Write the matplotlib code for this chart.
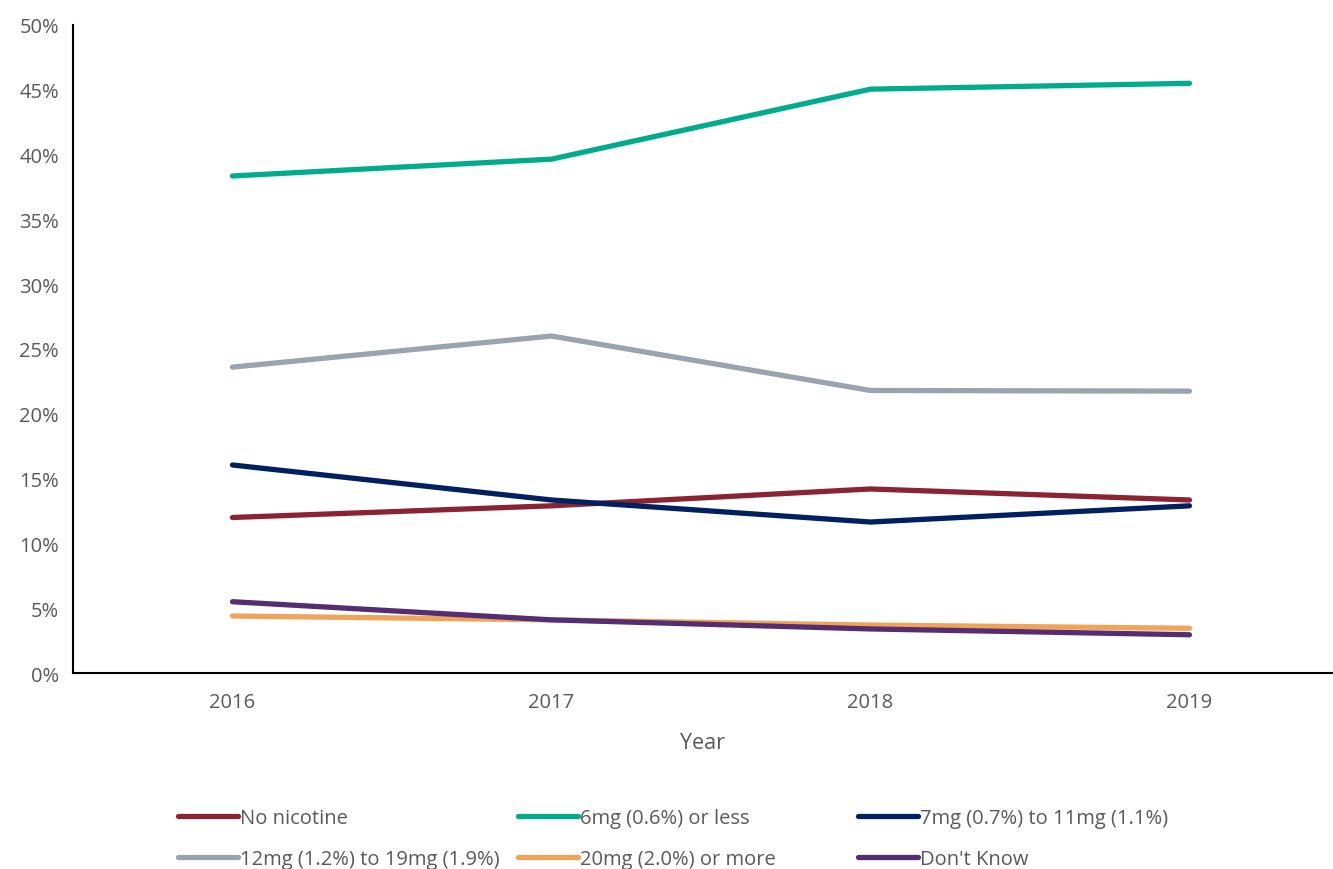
import matplotlib
matplotlib.use("Agg")
import matplotlib.pyplot as plt
from matplotlib.ticker import PercentFormatter

plt.rcParams['font.family'] = ['Open Sans', 'DejaVu Sans']

years = ['2016', '2017', '2018', '2019']
no_nicotine = [12.0, 12.9, 14.2, 13.35]
mg6_or_less = [38.35, 39.65, 45.05, 45.5]
mg7_to_11 = [16.05, 13.35, 11.65, 12.9]
mg12_to_19 = [23.6, 26.0, 21.8, 21.75]
mg20_or_more = [4.4, 4.1, 3.7, 3.45]
dont_know = [5.5, 4.1, 3.4, 2.95]

labels = ['No nicotine', '6mg (0.6%) or less', '7mg (0.7%) to 11mg (1.1%)',
          '12mg (1.2%) to 19mg (1.9%)', '20mg (2.0%) or more', "Don't Know"]
series = [no_nicotine, mg6_or_less, mg7_to_11, mg12_to_19, mg20_or_more, dont_know]
colors = ['#8B2332', '#00AC8C', '#002060', '#9BA4AE', '#F0A45A', '#552D72']

grey = '#595959'

fig = plt.figure(figsize=(13.33, 8.7), dpi=100)
ax = fig.add_axes([73/1333, 1 - 674/870, 1 - 73/1333, (674 - 26)/870])

x = range(len(years))
lines = []
for vals, lab, col in zip(series, labels, colors):
    ln, = ax.plot(x, vals, color=col, lw=3.8, label=lab, solid_capstyle='round')
    lines.append(ln)

ax.set_xlim(-0.5, 3.45)
ax.set_ylim(0, 50)
ax.set_xticks(list(x))
ax.set_xticklabels(years)
ax.set_yticks(range(0, 51, 5))
ax.yaxis.set_major_formatter(PercentFormatter(decimals=0))
ax.tick_params(length=0, labelsize=14.5, colors=grey, pad=10)
ax.tick_params(axis='x', pad=14)
for s in ['top', 'right']:
    ax.spines[s].set_visible(False)
for s in ['left', 'bottom']:
    ax.spines[s].set_color('black')
    ax.spines[s].set_linewidth(1.5)
ax.set_xlabel('Year', fontsize=15.5, color=grey, labelpad=14)

# legend, three columns placed like the original
cols = [(0, 3), (1, 4), (2, 5)]
xs = [170, 510, 850]
for (i, j), px in zip(cols, xs):
    leg = fig.legend([lines[i], lines[j]], [labels[i], labels[j]],
                     loc='upper left', bbox_to_anchor=(px/1333, 1 - 801/870),
                     frameon=False, fontsize=14.5, handlelength=3.0,
                     handletextpad=0.1, labelspacing=1.05, borderaxespad=0)
    for t in leg.get_texts():
        t.set_color(grey)

fig.savefig('out.png', dpi=100)
